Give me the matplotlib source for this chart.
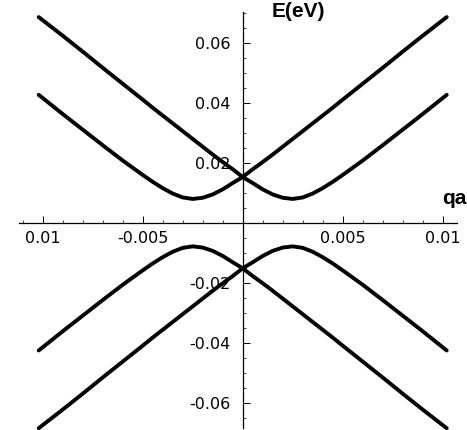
import matplotlib
matplotlib.use("Agg")
import matplotlib.pyplot as plt
from matplotlib.ticker import FixedLocator

plt.rcParams['font.family'] = ['DejaVu Sans']

# q*a values
qa = [-0.0102, -0.009, -0.008, -0.007, -0.006, -0.005, -0.0045, -0.004, -0.0035,
      -0.003, -0.0025, -0.002, -0.0015, -0.001, -0.0005, 0.0, 0.0005, 0.001,
      0.0015, 0.002, 0.0025, 0.003, 0.0035, 0.004, 0.0045, 0.005, 0.006, 0.007,
      0.008, 0.009, 0.0102]

# upper band with minimum on the left (eV)
e_up_left = [0.0426, 0.0362, 0.0310, 0.0258, 0.0207, 0.0159, 0.0136, 0.0115, 0.0097,
             0.0084, 0.0079, 0.0083, 0.0094, 0.0111, 0.0132, 0.0152, 0.0178, 0.0202,
             0.0227, 0.0253, 0.0279, 0.0305, 0.0331, 0.0357, 0.0383, 0.0410, 0.0463,
             0.0516, 0.0570, 0.0623, 0.0685]
# upper band with minimum on the right (eV)
e_up_right = [0.0685, 0.0623, 0.0570, 0.0516, 0.0463, 0.0410, 0.0383, 0.0357, 0.0331,
              0.0305, 0.0279, 0.0253, 0.0227, 0.0202, 0.0178, 0.0152, 0.0132, 0.0111,
              0.0094, 0.0083, 0.0079, 0.0084, 0.0097, 0.0115, 0.0136, 0.0159, 0.0207,
              0.0258, 0.0310, 0.0362, 0.0426]
# lower band with maximum on the left (eV)
e_low_left = [-0.0426, -0.0362, -0.0310, -0.0258, -0.0207, -0.0159, -0.0136, -0.0115, -0.0097,
              -0.0084, -0.0079, -0.0083, -0.0094, -0.0111, -0.0132, -0.0152, -0.0178, -0.0202,
              -0.0227, -0.0253, -0.0279, -0.0305, -0.0331, -0.0357, -0.0383, -0.0410, -0.0463,
              -0.0516, -0.0570, -0.0623, -0.0685]
# lower band with maximum on the right (eV)
e_low_right = [-0.0685, -0.0623, -0.0570, -0.0516, -0.0463, -0.0410, -0.0383, -0.0357, -0.0331,
               -0.0305, -0.0279, -0.0253, -0.0227, -0.0202, -0.0178, -0.0152, -0.0132, -0.0111,
               -0.0094, -0.0083, -0.0079, -0.0084, -0.0097, -0.0115, -0.0136, -0.0159, -0.0207,
               -0.0258, -0.0310, -0.0362, -0.0426]

x_ticks = [-0.01, -0.005, 0.005, 0.01]
x_tick_labels = ["0.01", "-0.005", "0.005", "0.01"]
y_ticks = [-0.06, -0.04, -0.02, 0.02, 0.04, 0.06]
y_tick_labels = ["-0.06", "-0.04", "-0.02", "0.02", "0.04", "0.06"]

fig = plt.figure(figsize=(4.67, 4.30), dpi=100)
ax = fig.add_axes([0, 0, 1, 1])
ax.set_xlim(-0.012135, 0.011215)
ax.set_ylim(-0.0691, 0.0742)

for e in (e_up_left, e_up_right, e_low_left, e_low_right):
    ax.plot(qa, e, color='black', lw=2.8, solid_capstyle='round', solid_joinstyle='round')

for side in ('top', 'right'):
    ax.spines[side].set_visible(False)
ax.spines['left'].set_position(('data', 0))
ax.spines['bottom'].set_position(('data', 0))
ax.spines['left'].set_bounds(-0.0684, 0.0702)
ax.spines['bottom'].set_bounds(-0.0112, 0.0107)
for side in ('left', 'bottom'):
    ax.spines[side].set_linewidth(0.9)
    ax.spines[side].set_zorder(1)

ax.set_xticks(x_ticks, x_tick_labels)
ax.set_yticks(y_ticks, y_tick_labels)
ax.xaxis.set_minor_locator(FixedLocator([i * 0.001 for i in range(-11, 11)]))
ax.yaxis.set_minor_locator(FixedLocator([i * 0.005 for i in range(-13, 15)]))
ax.tick_params(axis='both', which='major', direction='in', length=5, width=0.7,
               labelsize=11.5, pad=4)
ax.tick_params(axis='both', which='minor', direction='in', length=2.5, width=0.5)
ax.tick_params(axis='x', pad=6)
ax.tick_params(axis='y', pad=9)

ax.text(0.00145, 0.0737, "E(eV)", fontsize=15, fontweight='bold',
        family='Liberation Sans', ha='left', va='top')
ax.text(0.0112, 0.0050, "qa", fontsize=15, fontweight='bold',
        family='Liberation Sans', ha='right', va='bottom')

fig.savefig("out.png", dpi=100)
